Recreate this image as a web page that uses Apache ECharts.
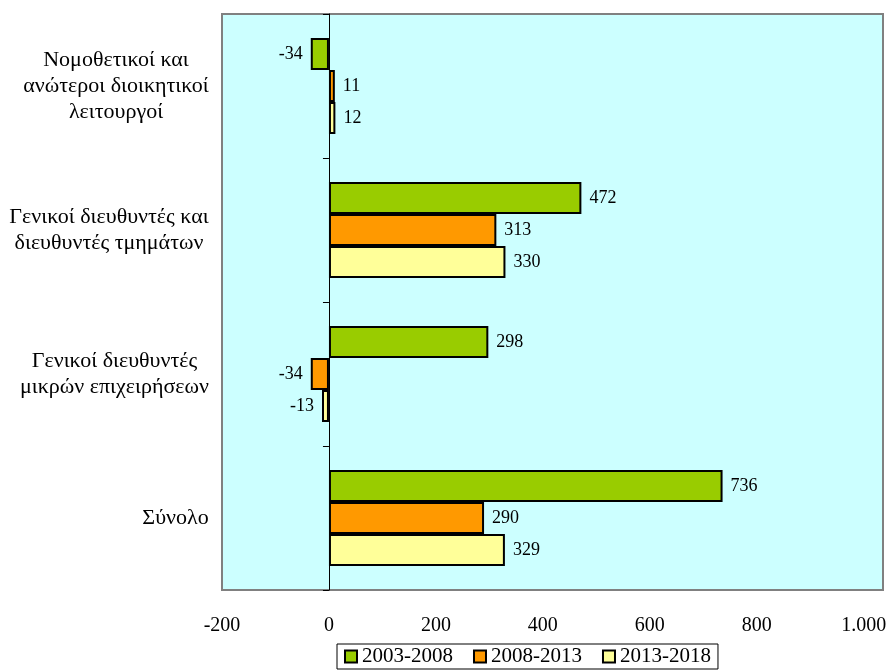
<!DOCTYPE html>
<html>
<head>
<meta charset="utf-8">
<script src="https://cdn.jsdelivr.net/npm/echarts@6/dist/echarts.min.js"></script>
<style>html,body{margin:0;padding:0;background:#fff;}#c{width:890px;height:672px;}</style>
</head>
<body>
<div id="c"></div>
<script>
const categories = [
  'Νομοθετικοί και\nανώτεροι διοικητικοί\nλειτουργοί',
  'Γενικοί διευθυντές και\nδιευθυντές τμημάτων',
  'Γενικοί διευθυντές\nμικρών επιχειρήσεων',
  'Σύνολο'
];
const seriesNames = ['2003-2008', '2008-2013', '2013-2018'];
const s2003_2008 = [-34, 472, 298, 736];
const s2008_2013 = [11, 313, -34, 290];
const s2013_2018 = [12, 330, -13, 329];
const xTicks = [-200, 0, 200, 400, 600, 800, 1000];

const FONT = '"Liberation Serif", "Times New Roman", serif';
const CAT_SIZE = 22;
const colors = ['#99CC00', '#FF9900', '#FFFF99'];
const seriesData = [s2003_2008, s2008_2013, s2013_2018];

function fmt(v) {
  return (v < 0 ? '-' : '') + String(Math.abs(v)).replace(/\B(?=(\d{3})+(?!\d))/g, '.');
}

// measure label blocks so lines are centred inside a right-aligned block
const mctx = document.createElement('canvas').getContext('2d');
mctx.font = CAT_SIZE + 'px "Liberation Serif"';
const rich = {};
categories.forEach((c, i) => {
  const w = Math.max(...c.split('\n').map(l => mctx.measureText(l).width));
  rich['l' + i] = {width: Math.ceil(w) + 2, align: 'center', fontFamily: FONT, fontSize: CAT_SIZE, color: '#000', lineHeight: 26};
});

const chart = echarts.init(document.getElementById('c'), null, {renderer: 'canvas'});
chart.setOption({
  animation: false,
  backgroundColor: '#ffffff',
  grid: {
    left: 222, right: 7, top: 14, bottom: 82,
    outerBoundsMode: 'none', containLabel: false,
    show: true, backgroundColor: '#CCFFFF', borderColor: '#808080', borderWidth: 2
  },
  legend: {
    left: 337, top: 644,
    data: seriesNames,
    icon: 'rect', itemWidth: 12, itemHeight: 12, itemGap: 20,
    padding: [2, 7, 2, 7],
    borderColor: '#000', borderWidth: 1,
    textStyle: {fontFamily: FONT, fontSize: 21, color: '#000'}
  },
  xAxis: {
    type: 'value', min: xTicks[0], max: 1036, interval: 200,
    axisLine: {show: false}, axisTick: {show: false}, splitLine: {show: false},
    axisLabel: {
      margin: 26, fontFamily: FONT, fontSize: 20, color: '#000',
      showMaxLabel: false,
      formatter: v => (xTicks.indexOf(v) >= 0 ? fmt(v) : '')
    }
  },
  yAxis: [
    {
      type: 'category', inverse: true, data: categories,
      axisLine: {show: false, onZero: false}, axisTick: {show: false},
      axisLabel: {
        margin: 12, align: 'right', fontFamily: FONT, fontSize: CAT_SIZE, color: '#000', lineHeight: 26,
        rich: rich,
        formatter: (v, i) => v.split('\n').map(l => '{l' + i + '|' + l + '}').join('\n')
      }
    },
    {
      type: 'category', inverse: true, data: categories, position: 'left',
      axisLine: {show: true, onZero: true, lineStyle: {color: '#000', width: 1}},
      axisTick: {show: true, length: 6, lineStyle: {color: '#000', width: 1}},
      axisLabel: {show: false}
    }
  ],
  series: seriesData.map((d, k) => ({
    name: seriesNames[k], type: 'bar', yAxisIndex: 0,
    barWidth: 32, barGap: '0%', barCategoryGap: '33%',
    itemStyle: {color: colors[k], borderColor: '#000', borderWidth: 2},
    data: d.map(v => ({
      value: v,
      label: {show: true, position: v < 0 ? 'left' : 'right', distance: 8,
        formatter: p => fmt(p.value), fontFamily: FONT, fontSize: 18, color: '#000'}
    }))
  }))
});
</script>
</body>
</html>
